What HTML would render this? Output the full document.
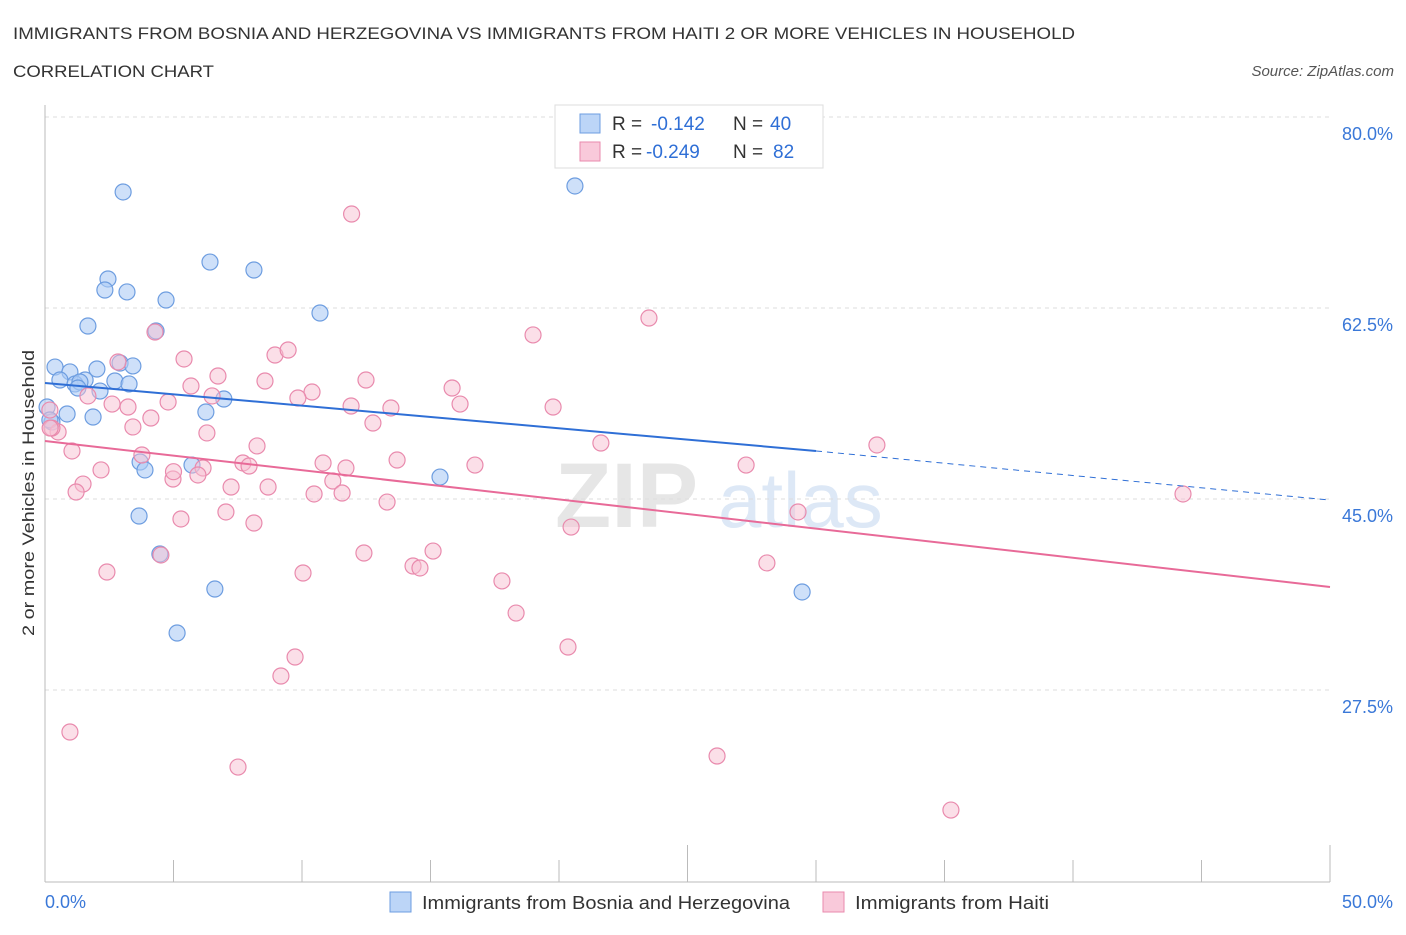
<!DOCTYPE html>
<html><head><meta charset="utf-8"><style>
body{margin:0;background:#fff;font-family:"Liberation Sans",sans-serif;}
svg text{font-family:"Liberation Sans",sans-serif;}
</style></head><body>
<svg id="chart" width="1406" height="930" viewBox="0 0 1406 930" xmlns="http://www.w3.org/2000/svg">
<text x="13" y="39" font-size="17" fill="#333" textLength="1062" lengthAdjust="spacingAndGlyphs">IMMIGRANTS FROM BOSNIA AND HERZEGOVINA VS IMMIGRANTS FROM HAITI 2 OR MORE VEHICLES IN HOUSEHOLD</text>
<text x="13" y="77" font-size="17" fill="#333" textLength="201" lengthAdjust="spacingAndGlyphs">CORRELATION CHART</text>
<text x="1394" y="76" font-size="15" fill="#555" text-anchor="end" font-style="italic">Source: ZipAtlas.com</text>
<text x="555" y="527" font-size="92" fill="#e6e6e6" font-family="Liberation Serif" font-weight="bold">ZIP</text>
<text x="718" y="527" font-size="78" fill="#dde8f6">atlas</text>
<g id="grid"></g>
<g id="axes"></g>
<g id="points"></g>
<g id="trends"></g>
<text transform="translate(34,493) rotate(-90)" font-size="17" fill="#333" text-anchor="middle" textLength="286" lengthAdjust="spacingAndGlyphs">2 or more Vehicles in Household</text>
<g>
<rect x="555" y="105" width="268" height="63" fill="#fff" stroke="#ddd"/>
<rect x="580" y="114" width="20" height="19" fill="#bcd5f7" stroke="#6d9de0"/>
<text x="612" y="130" font-size="19" fill="#333">R =</text>
<text x="651" y="130" font-size="19" fill="#2f6fd6">-0.142</text>
<text x="733" y="130" font-size="19" fill="#333">N =</text>
<text x="770" y="130" font-size="19" fill="#2f6fd6">40</text>
<rect x="580" y="142" width="20" height="19" fill="#f9c9da" stroke="#e98aad"/>
<text x="612" y="158" font-size="19" fill="#333">R =</text>
<text x="646" y="158" font-size="19" fill="#2f6fd6">-0.249</text>
<text x="733" y="158" font-size="19" fill="#333">N =</text>
<text x="773" y="158" font-size="19" fill="#2f6fd6">82</text>
</g>
<g>
<rect x="390" y="892" width="21" height="20" fill="#bcd5f7" stroke="#6d9de0"/>
<text x="422" y="909" font-size="18" fill="#333" textLength="368" lengthAdjust="spacingAndGlyphs">Immigrants from Bosnia and Herzegovina</text>
<rect x="823" y="892" width="21" height="20" fill="#f9c9da" stroke="#e98aad"/>
<text x="855" y="909" font-size="18" fill="#333" textLength="194" lengthAdjust="spacingAndGlyphs">Immigrants from Haiti</text>
</g>
</svg>
<script>
const yTicks=[80,62.5,45,27.5];
const yTickLabels=["80.0%","62.5%","45.0%","27.5%"];
const xTickLabels=["0.0%","50.0%"];
const bosniaX=[3.04,20.62,6.42,8.13,2.45,2.33,3.19,4.71,10.70,1.67,4.32,0.39,2.92,3.42,2.02,0.97,0.58,1.56,1.17,1.36,2.72,3.27,2.14,1.28,6.96,0.86,6.26,1.87,0.08,0.27,3.70,3.89,5.72,15.37,3.66,4.47,6.61,5.14,29.46,0.19];
const bosniaY=[73.13,73.68,66.71,65.98,65.16,64.15,63.97,63.23,62.04,60.85,60.39,57.09,57.46,57.19,56.91,56.64,55.90,55.90,55.54,55.72,55.81,55.54,54.89,55.17,54.16,52.79,52.97,52.51,53.43,52.05,48.39,47.66,48.11,47.01,43.44,39.96,36.75,32.72,36.48,52.24];
const haitiX=[11.93,23.50,18.99,4.28,8.95,9.46,2.84,5.41,6.73,12.49,8.56,5.68,15.84,10.39,9.84,1.67,6.50,2.61,3.23,4.79,11.91,13.46,16.15,19.77,4.12,12.76,3.42,0.51,6.30,0.27,1.05,8.25,21.63,32.37,3.77,13.70,10.82,7.70,7.94,16.73,27.28,2.18,6.15,11.71,5.95,4.98,11.20,7.24,8.68,1.48,1.21,10.47,11.56,13.31,44.28,7.04,29.30,5.29,8.13,20.47,15.10,12.41,4.51,14.32,14.59,28.09,2.41,10.04,17.78,18.33,20.35,9.73,9.18,0.97,26.15,7.51,35.25,0.19,0.2,5.0];
const haitiY=[71.11,61.58,60.03,60.30,58.19,58.65,57.55,57.83,56.27,55.90,55.81,55.35,55.17,54.80,54.25,54.44,54.44,53.70,53.43,53.89,53.52,53.34,53.70,53.43,52.42,51.96,51.60,51.14,51.05,51.50,49.40,49.86,50.13,49.95,49.03,48.57,48.30,48.30,48.02,48.11,48.11,47.66,47.84,47.84,47.20,46.83,46.65,46.10,46.10,46.37,45.64,45.46,45.55,44.72,45.46,43.81,43.81,43.17,42.80,42.43,40.23,40.05,39.87,38.86,38.68,39.14,38.31,38.22,37.49,34.55,31.44,30.52,28.78,23.65,21.45,20.44,16.50,53.15,51.5,47.5];
const bosniaTrend=[55.63,49.40,44.9];
const haitiTrend=[50.31,36.94];
const X=v=>45+v*25.7, Y=v=>117+(80-v)*10.914;
const NS="http://www.w3.org/2000/svg";
function mk(tag,attrs,parent){const e=document.createElementNS(NS,tag);for(const k in attrs)e.setAttribute(k,attrs[k]);document.getElementById(parent).appendChild(e);return e;}
yTicks.forEach((t,i)=>{
 const g=mk('line',{x1:45,x2:1330,y1:Y(t),y2:Y(t),stroke:'#ddd','stroke-dasharray':'4,4'},'grid');
 
 
 const l=mk('text',{x:1393,y:Y(t)+23,'text-anchor':'end','font-size':18,fill:'#3a78d8'},'grid');
 l.textContent=yTickLabels[i];
 
 
});
const ax=mk('line',{x1:45,x2:1330,y1:882,y2:882,stroke:'#bbb'},'axes');


const ay=mk('line',{x1:45,x2:45,y1:105,y2:882,stroke:'#bbb'},'axes');


for(let i=0;i<=10;i++){
 const tall=(i==5||i==10);
 const t=mk('line',{x1:X(i*5),x2:X(i*5),y1:tall?845:860,y2:882,stroke:'#bbb'},'axes');
 
 
}
[[0,45,'start'],[50,1393,'end']].forEach((d,i)=>{
 const l=mk('text',{x:d[1],y:908,'text-anchor':d[2],'font-size':18,fill:'#3a78d8'},'axes');
 l.textContent=xTickLabels[i];
 
 
});
bosniaX.forEach((x,i)=>{
 const c=mk('circle',{cx:X(x),cy:Y(bosniaY[i]),r:8,fill:'#aecbf5','fill-opacity':0.6,stroke:'#6d9de0','stroke-width':1.2},'points');
 
 
});
haitiX.forEach((x,i)=>{
 const c=mk('circle',{cx:X(x),cy:Y(haitiY[i]),r:8,fill:'#f7bfd2','fill-opacity':0.5,stroke:'#e98aad','stroke-width':1.2},'points');
 
 
});
const b1=mk('line',{x1:X(0),y1:Y(bosniaTrend[0]),x2:X(30),y2:Y(bosniaTrend[1]),stroke:'#2f6fd6','stroke-width':2},'trends');


const b2=mk('line',{x1:X(30),y1:Y(bosniaTrend[1]),x2:X(50),y2:Y(bosniaTrend[2]),stroke:'#2f6fd6','stroke-width':1,'stroke-dasharray':'6,5'},'trends');


const h1=mk('line',{x1:X(0),y1:Y(haitiTrend[0]),x2:X(50),y2:Y(haitiTrend[1]),stroke:'#e86a98','stroke-width':2},'trends');


</script>
</body></html>
